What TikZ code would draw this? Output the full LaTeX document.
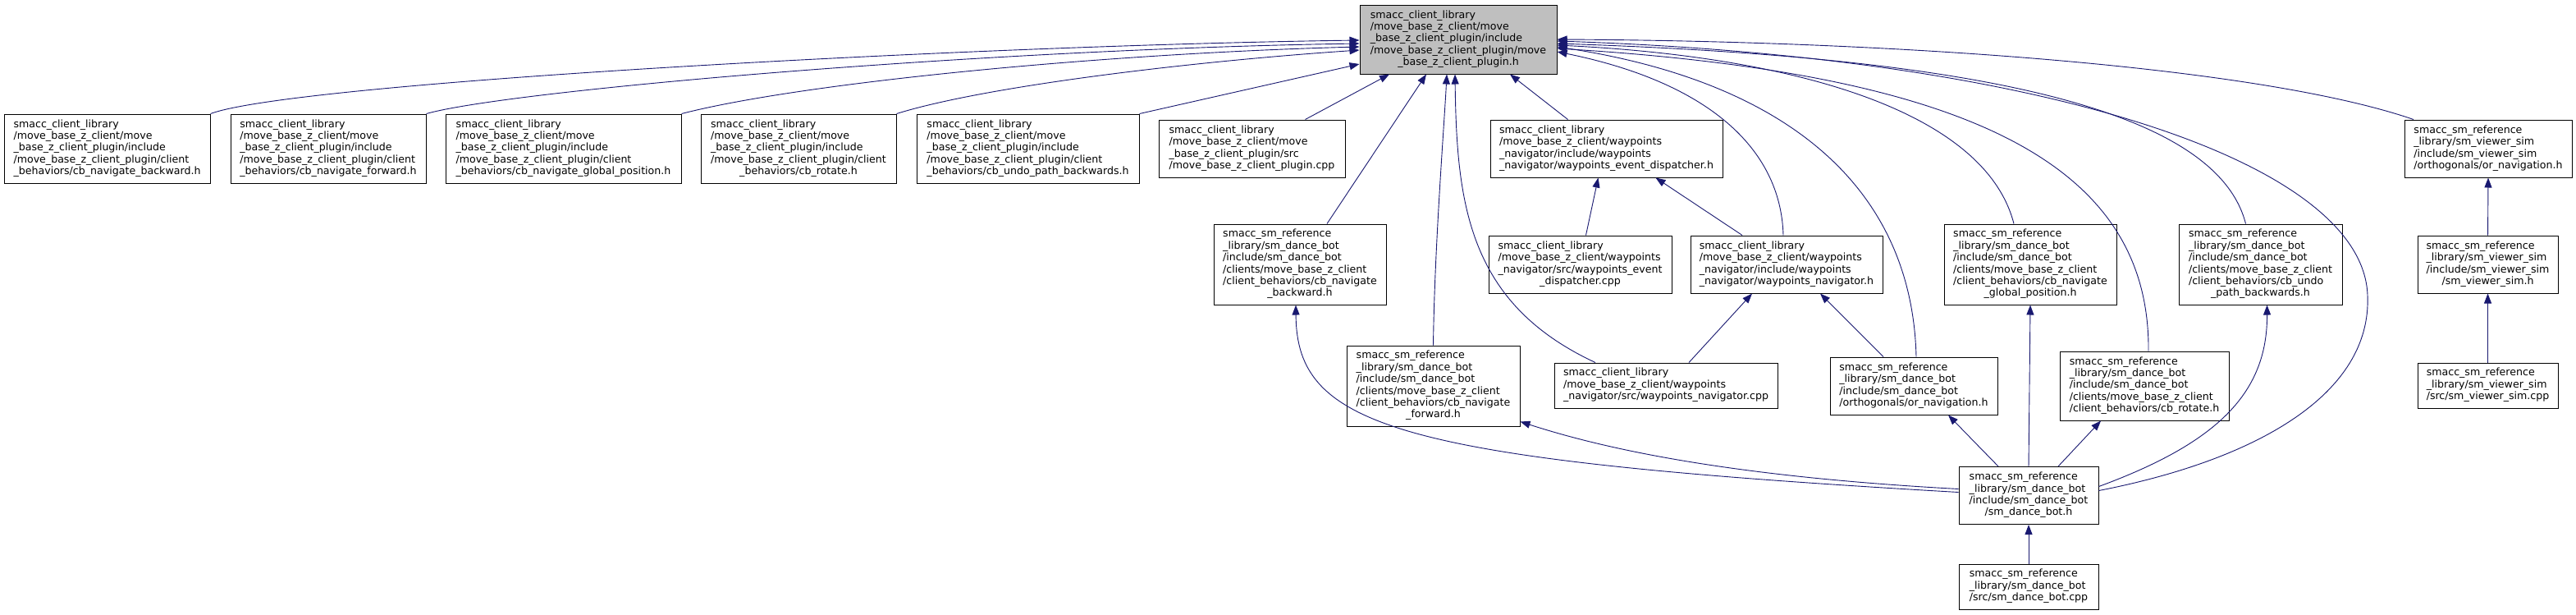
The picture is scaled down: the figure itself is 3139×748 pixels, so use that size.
\documentclass[tikz,border=0pt]{standalone}
\usepackage{fontspec}
\setmainfont{DejaVu Sans}
\usetikzlibrary{arrows.meta}
\definecolor{incblue}{HTML}{191970}
\definecolor{maingray}{HTML}{BFBFBF}
\newcommand{\fname}[1]{\begin{tabular}{@{}l@{}}#1\end{tabular}}
\newcommand{\lastl}[1]{\multicolumn{1}{@{}c@{}}{#1}}

\begin{document}
\begin{tikzpicture}[x=1pt, y=-1pt,
    file/.style={draw=black, line width=1pt, inner sep=0pt, font=\fontsize{12.6}{14.4}\selectfont},
    mainfile/.style={file, fill=maingray},
    inc/.style={draw=incblue, line width=0.9pt, -{Triangle[length=12pt,width=9pt]}}]
        \useasboundingbox (0,0) rectangle (3139,748);
        % ==== INCLUDED HEADER ====
        \node[mainfile, minimum width=240, minimum height=84] (pluginH) at (1777,48)
            {\fname{smacc\_client\_library\\/move\_base\_z\_client/move\\\_base\_z\_client\_plugin/include\\/move\_base\_z\_client\_plugin/move\\\lastl{\_base\_z\_client\_plugin.h}}};

        % ==== CLIENT BEHAVIORS ====
        \node[file, minimum width=251, minimum height=84] (cbNavBackward) at (130.5,181)
            {\fname{smacc\_client\_library\\/move\_base\_z\_client/move\\\_base\_z\_client\_plugin/include\\/move\_base\_z\_client\_plugin/client\\\lastl{\_behaviors/cb\_navigate\_backward.h}}};
        \node[file, minimum width=238, minimum height=84] (cbNavForward) at (400,181)
            {\fname{smacc\_client\_library\\/move\_base\_z\_client/move\\\_base\_z\_client\_plugin/include\\/move\_base\_z\_client\_plugin/client\\\lastl{\_behaviors/cb\_navigate\_forward.h}}};
        \node[file, minimum width=287, minimum height=84] (cbNavGlobal) at (686.5,181)
            {\fname{smacc\_client\_library\\/move\_base\_z\_client/move\\\_base\_z\_client\_plugin/include\\/move\_base\_z\_client\_plugin/client\\\lastl{\_behaviors/cb\_navigate\_global\_position.h}}};
        \node[file, minimum width=238, minimum height=84] (cbRotate) at (973,181)
            {\fname{smacc\_client\_library\\/move\_base\_z\_client/move\\\_base\_z\_client\_plugin/include\\/move\_base\_z\_client\_plugin/client\\\lastl{\_behaviors/cb\_rotate.h}}};
        \node[file, minimum width=271, minimum height=84] (cbUndoPath) at (1252.5,181)
            {\fname{smacc\_client\_library\\/move\_base\_z\_client/move\\\_base\_z\_client\_plugin/include\\/move\_base\_z\_client\_plugin/client\\\lastl{\_behaviors/cb\_undo\_path\_backwards.h}}};
        \node[file, minimum width=227, minimum height=70] (pluginCpp) at (1525.5,181)
            {\fname{smacc\_client\_library\\/move\_base\_z\_client/move\\\_base\_z\_client\_plugin/src\\\lastl{/move\_base\_z\_client\_plugin.cpp}}};

        % ==== WAYPOINTS NAVIGATOR ====
        \node[file, minimum width=283, minimum height=70] (wpDispatcherH) at (1957.5,181)
            {\fname{smacc\_client\_library\\/move\_base\_z\_client/waypoints\\\_navigator/include/waypoints\\\lastl{\_navigator/waypoints\_event\_dispatcher.h}}};
        \node[file, minimum width=223, minimum height=70] (wpDispatcherCpp) at (1925.5,322)
            {\fname{smacc\_client\_library\\/move\_base\_z\_client/waypoints\\\_navigator/src/waypoints\_event\\\lastl{\_dispatcher.cpp}}};
        \node[file, minimum width=234, minimum height=70] (wpNavigatorH) at (2177,322)
            {\fname{smacc\_client\_library\\/move\_base\_z\_client/waypoints\\\_navigator/include/waypoints\\\lastl{\_navigator/waypoints\_navigator.h}}};
        \node[file, minimum width=272, minimum height=55] (wpNavigatorCpp) at (2030,469.5)
            {\fname{smacc\_client\_library\\/move\_base\_z\_client/waypoints\\\lastl{\_navigator/src/waypoints\_navigator.cpp}}};

        % ==== DANCE BOT ====
        \node[file, minimum width=210, minimum height=98] (dbNavBackward) at (1584,322)
            {\fname{smacc\_sm\_reference\\\_library/sm\_dance\_bot\\/include/sm\_dance\_bot\\/clients/move\_base\_z\_client\\/client\_behaviors/cb\_navigate\\\lastl{\_backward.h}}};
        \node[file, minimum width=211, minimum height=98] (dbNavForward) at (1746.5,470)
            {\fname{smacc\_sm\_reference\\\_library/sm\_dance\_bot\\/include/sm\_dance\_bot\\/clients/move\_base\_z\_client\\/client\_behaviors/cb\_navigate\\\lastl{\_forward.h}}};
        \node[file, minimum width=210, minimum height=98] (dbNavGlobal) at (2474,322)
            {\fname{smacc\_sm\_reference\\\_library/sm\_dance\_bot\\/include/sm\_dance\_bot\\/clients/move\_base\_z\_client\\/client\_behaviors/cb\_navigate\\\lastl{\_global\_position.h}}};
        \node[file, minimum width=199, minimum height=98] (dbUndoPath) at (2754.5,322)
            {\fname{smacc\_sm\_reference\\\_library/sm\_dance\_bot\\/include/sm\_dance\_bot\\/clients/move\_base\_z\_client\\/client\_behaviors/cb\_undo\\\lastl{\_path\_backwards.h}}};
        \node[file, minimum width=206, minimum height=84] (dbRotate) at (2613,470)
            {\fname{smacc\_sm\_reference\\\_library/sm\_dance\_bot\\/include/sm\_dance\_bot\\/clients/move\_base\_z\_client\\\lastl{/client\_behaviors/cb\_rotate.h}}};
        \node[file, minimum width=204, minimum height=70] (dbOrNav) at (2332,470)
            {\fname{smacc\_sm\_reference\\\_library/sm\_dance\_bot\\/include/sm\_dance\_bot\\\lastl{/orthogonals/or\_navigation.h}}};
        \node[file, minimum width=170, minimum height=70] (danceBotH) at (2472,603.5)
            {\fname{smacc\_sm\_reference\\\_library/sm\_dance\_bot\\/include/sm\_dance\_bot\\\lastl{/sm\_dance\_bot.h}}};
        \node[file, minimum width=170, minimum height=55] (danceBotCpp) at (2472,714.5)
            {\fname{smacc\_sm\_reference\\\_library/sm\_dance\_bot\\\lastl{/src/sm\_dance\_bot.cpp}}};

        % ==== VIEWER SIM ====
        \node[file, minimum width=204, minimum height=70] (vsOrNav) at (3032,181)
            {\fname{smacc\_sm\_reference\\\_library/sm\_viewer\_sim\\/include/sm\_viewer\_sim\\\lastl{/orthogonals/or\_navigation.h}}};
        \node[file, minimum width=171, minimum height=70] (viewerSimH) at (3031.5,322)
            {\fname{smacc\_sm\_reference\\\_library/sm\_viewer\_sim\\/include/sm\_viewer\_sim\\\lastl{/sm\_viewer\_sim.h}}};
        \node[file, minimum width=171, minimum height=55] (viewerSimCpp) at (3031.5,469.5)
            {\fname{smacc\_sm\_reference\\\_library/sm\_viewer\_sim\\\lastl{/src/sm\_viewer\_sim.cpp}}};

        \coordinate (dbBend) at (2885,360);

        % ==== Edges into the plugin header ====
        \draw[inc] (cbNavBackward.north east) .. controls (360,100) and (1200,55) .. ([yshift=-1pt]pluginH.west);
        \draw[inc] (cbNavForward.north east) .. controls (620,110) and (1200,60) .. ([yshift=-5pt]pluginH.west);
        \draw[inc] (cbNavGlobal.north east) .. controls (980,100) and (1350,65) .. ([yshift=-9pt]pluginH.west);
        \draw[inc] (cbRotate.north east) .. controls (1200,105) and (1450,75) .. ([yshift=-13pt]pluginH.west);
        \draw[inc] (cbUndoPath.north east) -- ([yshift=-30pt]pluginH.west);
        \draw[inc] ([xshift=65pt]pluginCpp.north) -- ([xshift=-84pt]pluginH.south);
        \draw[inc] ([xshift=33pt]dbNavBackward.north) -- ([xshift=-39pt]pluginH.south);
        \draw[inc] (dbNavForward.north) .. controls (1748,300) and (1760,150) .. ([xshift=-14pt]pluginH.south);
        \draw[inc] ([xshift=-86pt]wpNavigatorCpp.north) .. controls (1790,370) and (1775,250) .. ([xshift=-4pt]pluginH.south);
        \draw[inc] ([xshift=-47pt]wpDispatcherH.north) -- ([xshift=63pt]pluginH.south);
        \draw[inc] ([xshift=-4pt]wpNavigatorH.north) .. controls (2170,180) and (2080,100) .. ([yshift=-15pt]pluginH.east);
        \draw[inc] ([xshift=3pt]dbOrNav.north) .. controls (2330,230) and (2180,100) .. ([yshift=-9pt]pluginH.east);
        \draw[inc] ([xshift=-20pt]dbNavGlobal.north) .. controls (2420,140) and (2200,70) .. ([yshift=-7pt]pluginH.east);
        \draw[inc] ([xshift=5pt]dbRotate.north) .. controls (2620,200) and (2400,90) .. ([yshift=-11pt]pluginH.east);
        \draw[inc] ([xshift=-18pt]dbUndoPath.north) .. controls (2700,130) and (2400,70) .. ([yshift=-5pt]pluginH.east);
        \draw[inc] ([yshift=6pt]danceBotH.east) .. controls (2750,560) and (2890,480) .. (dbBend)
            .. controls (2880,200) and (2500,70) .. ([yshift=-2pt]pluginH.east);
        \draw[inc] ([xshift=-91pt]vsOrNav.north) .. controls (2750,80) and (2300,50) .. (pluginH.east);

        % ==== Other edges ====
        \draw[inc] ([xshift=7pt]wpDispatcherCpp.north) -- ([xshift=-10pt]wpDispatcherH.south);
        \draw[inc] ([xshift=-54pt]wpNavigatorH.north) -- ([xshift=60pt]wpDispatcherH.south);
        \draw[inc] ([xshift=28pt]wpNavigatorCpp.north) -- ([xshift=-42pt]wpNavigatorH.south);
        \draw[inc] ([xshift=-37pt]dbOrNav.north) -- ([xshift=41pt]wpNavigatorH.south);
        \draw[inc] (viewerSimH.north) -- (vsOrNav.south);
        \draw[inc] (viewerSimCpp.north) -- (viewerSimH.south);
        \draw[inc] (danceBotCpp.north) -- (danceBotH.south);
        \draw[inc] ([xshift=-37pt]danceBotH.north) -- ([xshift=42pt]dbOrNav.south);
        \draw[inc] (danceBotH.north) -- (dbNavGlobal.south);
        \draw[inc] ([xshift=36pt]danceBotH.north) -- ([xshift=-53pt]dbRotate.south);
        \draw[inc] ([yshift=8pt]danceBotH.west) .. controls (2100,580) and (1950,545) .. ([yshift=6pt]dbNavForward.south east);
        \draw[inc] ([yshift=4pt]danceBotH.west) .. controls (1700,560) and (1580,520) .. ([xshift=-5pt]dbNavBackward.south);
        \draw[inc] ([yshift=11pt]danceBotH.east) .. controls (2700,540) and (2763,480) .. ([xshift=8pt]dbUndoPath.south);
\end{tikzpicture}
\end{document}
